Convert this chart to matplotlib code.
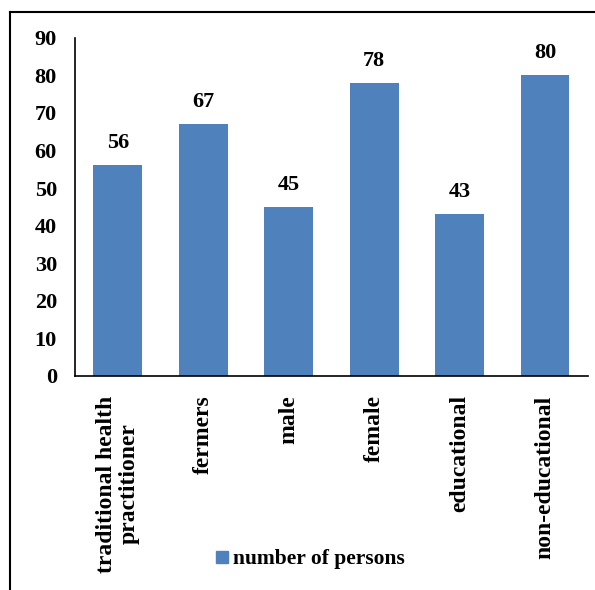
import numpy as np
import matplotlib
matplotlib.use("Agg")
import matplotlib.pyplot as plt
from matplotlib.lines import Line2D

categories = ["traditional health\npractitioner", "fermers", "male", "female",
              "educational", "non-educational"]
persons = [56, 67, 45, 78, 43, 80]
yticks = list(range(0, 91, 10))

plt.rcParams['font.family'] = ['Liberation Serif', 'DejaVu Serif']
plt.rcParams['font.weight'] = 'bold'

fig = plt.figure(figsize=(5.95, 5.9), dpi=100)
ax = fig.add_axes([0.126, 0.363, 0.862, 0.573])

x = np.arange(len(categories))
bars = ax.bar(x, persons, width=0.57, color="#4F81BD", label="number of persons")
for b, v in zip(bars, persons):
    ax.text(b.get_x() + b.get_width() / 2, v + 3.2, str(v), ha="center", va="bottom",
            fontsize=16, fontweight="bold")

ax.set_xlim(-0.5, len(categories) - 0.5)
ax.set_ylim(0, 90)
ax.set_yticks(yticks)
ax.set_xticks(x)
ax.set_xticklabels(categories, rotation=90, fontsize=17, fontweight="bold",
                   linespacing=1.1, va="top", ha="center")
ax.tick_params(axis="both", length=0)
ax.tick_params(axis="y", pad=13, labelsize=16)
ax.tick_params(axis="x", pad=14)
for lbl in ax.get_yticklabels():
    lbl.set_fontweight("bold")
for s in ["top", "right"]:
    ax.spines[s].set_visible(False)
ax.spines["left"].set_linewidth(1.2)
ax.spines["bottom"].set_linewidth(1.2)

leg = fig.legend(handles=[Line2D([], [], marker="s", linestyle="none", color="#4F81BD",
                                 markersize=8)],
                 labels=["number of persons"], loc="center", bbox_to_anchor=(0.52, 0.052),
                 frameon=False, prop={"size": 15.5, "weight": "bold"},
                 handletextpad=0.1, handlelength=0.8)

# outer frame (top and left edges)
fig.add_artist(Line2D([10 / 595, 1.0], [1 - 12 / 590, 1 - 12 / 590], color="black", lw=1.5))
fig.add_artist(Line2D([10 / 595, 10 / 595], [0.0, 1 - 12 / 590], color="black", lw=1.5))

fig.savefig("out.png", dpi=100)
